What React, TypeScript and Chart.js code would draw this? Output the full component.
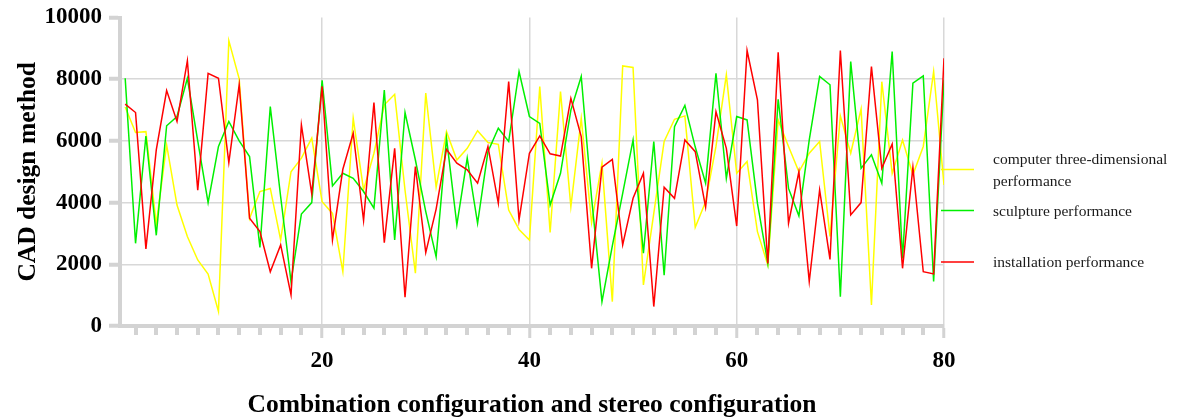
import { useEffect, useRef } from 'react';
import { Chart, registerables } from 'chart.js';

Chart.register(...registerables);

const categories = Array.from({ length: 80 }, (_, i) => i + 1);

const computerValues = [
  7100, 6270, 6300, 3300, 5870, 3920, 2900, 2140, 1680, 470,
  9250, 8010, 3490, 4360, 4460, 2790, 5000, 5440, 6090, 4030,
  3650, 1760, 6730, 4410, 5600, 7170, 7510, 4400, 1710, 7550,
  4500, 6300, 5380, 5760, 6330, 5950, 5890, 3760, 3130, 2790,
  7760, 3030, 7600, 3870, 6730, 3350, 5280, 790, 8430, 8380,
  1330, 3650, 5980, 6700, 6810, 3200, 4030, 5820, 8140, 4950,
  5330, 3060, 1980, 6680, 5820, 5000, 5600, 5980, 2900, 6810,
  5600, 7030, 680, 7920, 4950, 6030, 4900, 5820, 8250, 4570,
];

const sculptureValues = [
  8030, 2680, 6160, 2940, 6490, 6790, 8030, 6000, 4000, 5820,
  6630, 6000, 5490, 2550, 7110, 4190, 1440, 3630, 4000, 7960,
  4540, 4950, 4790, 4360, 3820, 7650, 2790, 6920, 5380, 3710,
  2250, 6090, 3280, 5440, 3330, 5650, 6410, 5980, 8250, 6790,
  6570, 3920, 4950, 7000, 8090, 4140, 790, 2600, 4300, 6030,
  2360, 5980, 1650, 6460, 7150, 5800, 4630, 8190, 4790, 6790,
  6680, 3980, 2030, 7350, 4460, 3570, 6030, 8090, 7820, 950,
  8570, 5110, 5550, 4630, 8900, 2190, 7870, 8110, 1440, 7980,
];

const installationValues = [
  7190, 6920, 2500, 5710, 7630, 6630, 8600, 4400, 8190, 8030,
  5300, 7820, 3490, 3060, 1760, 2630, 1010, 6520, 4280, 7770,
  2790, 5080, 6250, 3420, 7240, 2700, 5760, 930, 5170, 2380,
  3790, 5730, 5280, 5060, 4630, 5820, 3980, 7920, 3440, 5600,
  6160, 5580, 5510, 7380, 6140, 1870, 5150, 5400, 2630, 4140,
  4950, 630, 4500, 4140, 6030, 5650, 3850, 6950, 5760, 3240,
  8930, 7330, 2030, 8870, 3330, 5000, 1440, 4410, 2160, 8930,
  3600, 4000, 8410, 5110, 5900, 1870, 5150, 1760, 1690, 8680,
];

const yTicks = [0, 2000, 4000, 6000, 8000, 10000];
const xTickLabels = [20, 40, 60, 80];
const seriesNames = [
  'computer three-dimensional performance',
  'sculpture performance',
  'installation performance',
];

const SERIF = '"Liberation Serif", "Times New Roman", serif';

function wrapText(ctx: CanvasRenderingContext2D, text: string, maxWidth: number): string[] {
  const words = text.split(' ');
  const lines: string[] = [];
  let cur = '';
  for (const w of words) {
    const test = cur ? cur + ' ' + w : w;
    if (ctx.measureText(test).width > maxWidth && cur) {
      lines.push(cur);
      cur = w;
    } else {
      cur = test;
    }
  }
  if (cur) lines.push(cur);
  return lines;
}

const sideLegend = {
  id: 'sideLegend',
  afterDraw(chart: any) {
    const { ctx, chartArea } = chart;
    const rows = [152, 193, 244.5];
    ctx.save();
    ctx.font = '15.5px ' + SERIF;
    ctx.textBaseline = 'middle';
    ctx.textAlign = 'left';
    chart.data.datasets.forEach((ds: any, i: number) => {
      const y = chartArea.top + rows[i];
      ctx.strokeStyle = ds.borderColor;
      ctx.lineWidth = 1.5;
      ctx.beginPath();
      ctx.moveTo(chartArea.right - 3, y);
      ctx.lineTo(chartArea.right + 30, y);
      ctx.stroke();
      ctx.fillStyle = '#1a1a1a';
      const lines = wrapText(ctx, ds.label, 190);
      const lh = 22;
      const y0 = y + 1 - ((lines.length - 1) * lh) / 2;
      lines.forEach((t, j) => ctx.fillText(t, chartArea.right + 49, y0 + j * lh));
    });
    ctx.restore();
  },
};

const minorTicks = {
  id: 'minorTicks',
  afterDraw(chart: any) {
    const { ctx, chartArea } = chart;
    const xs = chart.scales.x;
    ctx.save();
    ctx.strokeStyle = '#d3d3d3';
    ctx.lineWidth = 4;
    for (let v = 2; v < 80; v += 2) {
      if (xTickLabels.includes(v)) continue;
      const px = Math.round(xs.getPixelForValue(v));
      ctx.beginPath();
      ctx.moveTo(px, chartArea.bottom + 2);
      ctx.lineTo(px, chartArea.bottom + 9);
      ctx.stroke();
    }
    ctx.restore();
  },
};

export default function App() {
  const ref = useRef<HTMLCanvasElement | null>(null);

  useEffect(() => {
    document.body.style.margin = '0';
    if (!ref.current) return;
    const mk = (vals: number[]) => vals.map((v, i) => ({ x: categories[i], y: v }));
    const chart = new Chart(ref.current, {
      type: 'line',
      data: {
        datasets: [
          { label: seriesNames[0], data: mk(computerValues), borderColor: '#ffff00', backgroundColor: '#ffff00', order: 3 },
          { label: seriesNames[1], data: mk(sculptureValues), borderColor: '#00f000', backgroundColor: '#00f000', order: 2 },
          { label: seriesNames[2], data: mk(installationValues), borderColor: '#ff0000', backgroundColor: '#ff0000', order: 1 },
        ],
      },
      options: {
        animation: false,
        responsive: false,
        maintainAspectRatio: false,
        elements: {
          line: { borderWidth: 1.5, tension: 0 },
          point: { radius: 0, hoverRadius: 0 },
        },
        layout: { padding: { top: 17.5, right: 237, bottom: 0, left: 0 } },
        plugins: {
          legend: { display: false },
          tooltip: { enabled: false },
        },
        scales: {
          x: {
            type: 'linear',
            min: 0.5,
            max: 80,
            afterBuildTicks: (s: any) => {
              s.ticks = xTickLabels.map((v) => ({ value: v }));
            },
            afterFit: (s: any) => {
              s.height = 93;
            },
            border: { display: true, width: 4, color: '#d3d3d3' },
            grid: { color: '#d8d8d8', lineWidth: 1.5, tickLength: 12, tickWidth: 3, tickColor: '#d3d3d3' },
            ticks: {
              font: { family: SERIF, size: 23, weight: 'bold' },
              color: '#000',
              padding: 9,
              maxRotation: 0,
              autoSkip: false,
              callback: (v: any) => String(v),
            },
            title: {
              display: true,
              text: 'Combination configuration and stereo configuration',
              font: { family: SERIF, size: 25.5, weight: 'bold', lineHeight: 1 },
              color: '#000',
              padding: { top: 0, bottom: 1 },
            },
          },
          y: {
            min: 0,
            max: 10000,
            afterBuildTicks: (s: any) => {
              s.ticks = yTicks.map((v) => ({ value: v }));
            },
            afterFit: (s: any) => {
              s.width = 120;
              s.paddingTop = 0;
              s.paddingBottom = 0;
            },
            border: { display: true, width: 4, color: '#d3d3d3' },
            grid: {
              color: (c: any) =>
                c.tick && (c.tick.value === 10000 || c.tick.value === 0) ? 'rgba(0,0,0,0)' : '#d8d8d8',
              lineWidth: 1.5,
              tickLength: 11,
              tickWidth: 4,
              tickColor: '#d3d3d3',
            },
            ticks: {
              font: { family: SERIF, size: 23, weight: 'bold' },
              color: '#000',
              padding: 7,
              callback: (v: any) => String(v),
            },
            title: {
              display: true,
              text: 'CAD design method',
              font: { family: SERIF, size: 25.5, weight: 'bold', lineHeight: 1 },
              color: '#000',
              padding: { top: 16, bottom: 0 },
            },
          },
        },
      },
      plugins: [sideLegend, minorTicks],
    });
    return () => chart.destroy();
  }, []);

  return <canvas ref={ref} width={1181} height={419} style={{ display: 'block' }} />;
}
